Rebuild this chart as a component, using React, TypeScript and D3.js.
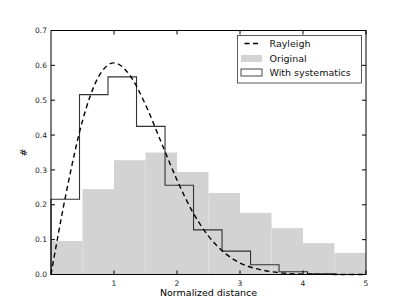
import { useEffect, useRef } from "react";
import * as d3 from "d3";

// gray histogram "Original", bins of 0.5 from 0 to 5
const originalEdges = [0, 0.5, 1, 1.5, 2, 2.5, 3, 3.5, 4, 4.5, 5];
const originalValues = [0.096, 0.245, 0.328, 0.350, 0.294, 0.234, 0.177, 0.133, 0.090, 0.062];

// step histogram "With systematics"
const systEdges = [0, 0.4525, 0.905, 1.3575, 1.81, 2.2625, 2.715, 3.1675, 3.62, 4.0725, 4.525];
const systValues = [0.216, 0.516, 0.567, 0.425, 0.256, 0.128, 0.067, 0.028, 0.008, 0.002];

// Rayleigh curve, sampled
const rayX = [0, 0.25, 0.5, 0.75, 1, 1.25, 1.5, 1.75, 2, 2.25, 2.5, 2.75, 3, 3.25, 3.5, 3.75, 4, 4.5, 5];
const rayY = [0, 0.242, 0.441, 0.566, 0.607, 0.572, 0.487, 0.379, 0.271, 0.179, 0.110, 0.063, 0.033, 0.017, 0.008, 0.003, 0.001, 0.0002, 0];

const xTicks = [1, 2, 3, 4, 5];
const yTicks = [0, 0.1, 0.2, 0.3, 0.4, 0.5, 0.6, 0.7];

const legendItems = ["Rayleigh", "Original", "With systematics"];

const W = 407;
const H = 305;

const App = () => {
  const svgRef = useRef<SVGSVGElement | null>(null);

  useEffect(() => {
    if (!svgRef.current) return;
    const svg = d3.select(svgRef.current);
    svg.selectAll("*").remove();

    const margin = { top: 30.5, right: 41, bottom: 30.5, left: 51 };
    const x = d3.scaleLinear().domain([0, 5]).range([margin.left, W - margin.right]);
    const y = d3.scaleLinear().domain([0, 0.7]).range([H - margin.bottom, margin.top]);
    const font = "DejaVu Sans, sans-serif";

    // original bars
    svg.append("g")
      .selectAll("rect")
      .data(originalValues)
      .enter().append("rect")
      .attr("x", (_, i) => x(originalEdges[i]))
      .attr("y", d => y(d))
      .attr("width", (_, i) => x(originalEdges[i + 1]) - x(originalEdges[i]))
      .attr("height", d => y(0) - y(d))
      .attr("fill", "#d3d3d3");

    // step outline
    const pts: [number, number][] = [[systEdges[0], 0]];
    systValues.forEach((v, i) => {
      pts.push([systEdges[i], v]);
      pts.push([systEdges[i + 1], v]);
    });
    pts.push([systEdges[systEdges.length - 1], 0]);
    svg.append("path")
      .attr("d", d3.line<[number, number]>().x(d => x(d[0])).y(d => y(d[1]))(pts))
      .attr("fill", "none")
      .attr("stroke", "#333")
      .attr("stroke-width", 1.1);

    // rayleigh
    svg.append("path")
      .attr("d", d3.line<number>()
        .x((_, i) => x(rayX[i]))
        .y(d => y(d))
        .curve(d3.curveMonotoneX)(rayY))
      .attr("fill", "none")
      .attr("stroke", "#000")
      .attr("stroke-width", 1.4)
      .attr("stroke-dasharray", "5,3.5");

    // frame
    svg.append("rect")
      .attr("x", x(0)).attr("y", y(0.7))
      .attr("width", x(5) - x(0)).attr("height", y(0) - y(0.7))
      .attr("fill", "none").attr("stroke", "#000").attr("stroke-width", 1);

    const tl = 4;
    const ticks = svg.append("g").attr("stroke", "#000").attr("stroke-width", 1);
    xTicks.forEach(t => {
      ticks.append("line").attr("x1", x(t)).attr("x2", x(t)).attr("y1", y(0)).attr("y2", y(0) - tl);
      ticks.append("line").attr("x1", x(t)).attr("x2", x(t)).attr("y1", y(0.7)).attr("y2", y(0.7) + tl);
    });
    yTicks.forEach(t => {
      ticks.append("line").attr("x1", x(0)).attr("x2", x(0) + tl).attr("y1", y(t)).attr("y2", y(t));
      ticks.append("line").attr("x1", x(5)).attr("x2", x(5) - tl).attr("y1", y(t)).attr("y2", y(t));
    });

    svg.append("g").selectAll("text").data(xTicks).enter().append("text")
      .attr("x", d => x(d)).attr("y", y(0) + 11)
      .attr("text-anchor", "middle")
      .attr("font-family", font).attr("font-size", 7.5).attr("fill", "#222")
      .text(d => String(d));

    svg.append("g").selectAll("text").data(yTicks).enter().append("text")
      .attr("x", x(0) - 4).attr("y", d => y(d))
      .attr("dy", "0.35em")
      .attr("text-anchor", "end")
      .attr("font-family", font).attr("font-size", 7.5).attr("fill", "#222")
      .text(d => d.toFixed(1));

    svg.append("text")
      .attr("x", (x(0) + x(5)) / 2).attr("y", 296)
      .attr("text-anchor", "middle")
      .attr("font-family", font).attr("font-size", 9.5)
      .text("Normalized distance");

    svg.append("text")
      .attr("transform", `translate(27,${(y(0) + y(0.7)) / 2}) rotate(-90)`)
      .attr("text-anchor", "middle")
      .attr("font-family", font).attr("font-size", 9.5)
      .text("#");

    // legend
    const lg = svg.append("g");
    lg.append("rect")
      .attr("x", 237.5).attr("y", 35.5).attr("width", 124).attr("height", 47.5)
      .attr("fill", "#fff").attr("stroke", "#333").attr("stroke-width", 0.8);
    const rowY = [43.5, 58.5, 72.5];
    lg.append("line").attr("x1", 244.5).attr("x2", 258).attr("y1", rowY[0]).attr("y2", rowY[0])
      .attr("stroke", "#000").attr("stroke-width", 1.4).attr("stroke-dasharray", "5,3.5");
    lg.append("rect").attr("x", 241).attr("y", rowY[1] - 3.5).attr("width", 21).attr("height", 7)
      .attr("fill", "#d3d3d3");
    lg.append("rect").attr("x", 241).attr("y", rowY[2] - 3.5).attr("width", 21).attr("height", 7)
      .attr("fill", "none").attr("stroke", "#333").attr("stroke-width", 0.9);
    lg.selectAll("text.lt").data(legendItems).enter().append("text")
      .attr("class", "lt")
      .attr("x", 269.5).attr("y", (_, i) => rowY[i])
      .attr("dy", "0.35em")
      .attr("font-family", font).attr("font-size", 9.5).attr("fill", "#111")
      .text(d => d);
  }, []);

  return <svg ref={svgRef} width={W} height={H} style={{ position: "absolute", left: 0, top: 0 }}></svg>;
};

export default App;
